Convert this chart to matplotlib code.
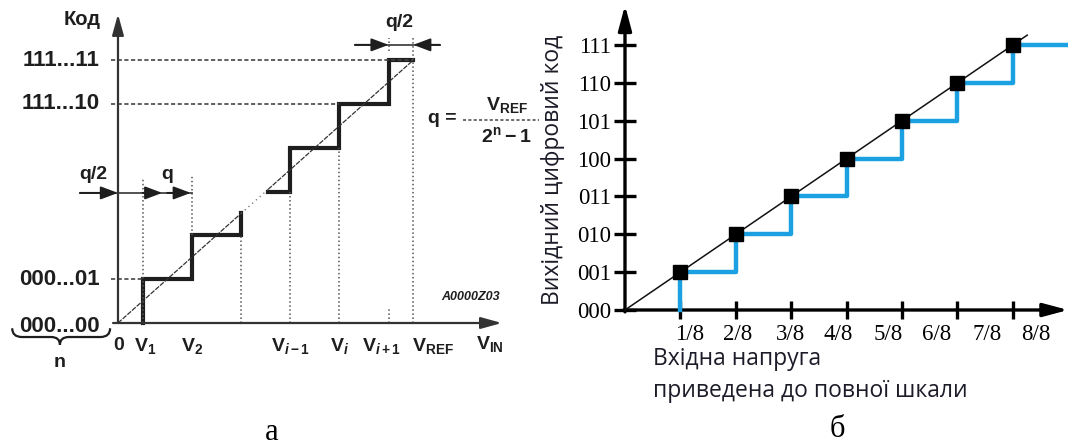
import numpy as np
import matplotlib.pyplot as plt
from matplotlib.path import Path
from matplotlib.patches import PathPatch

plt.rcParams['mathtext.fontset'] = 'custom'
plt.rcParams['mathtext.rm'] = 'Liberation Sans:bold'
plt.rcParams['mathtext.bf'] = 'Liberation Sans:bold'
plt.rcParams['mathtext.it'] = 'Liberation Sans:bold:italic'

# ---- (a) ideal ADC transfer curve, units of q ----
lo_x = [0.5, 0.5, 1.5, 1.5, 2.5, 2.5]
lo_y = [0, 1, 1, 2, 2, 2.5]
hi_x = [3.05, 3.5, 3.5, 4.5, 4.5, 5.5, 5.5, 6.0]
hi_y = [3, 3, 4, 4, 5, 5, 6, 6]
v_ref = 6.0
code_levels = [6, 5, 1, 0]
code_names = ['111...11', '111...10', '000...01', '000...00']
v_pos = [0.0, 0.55, 1.5, 3.5, 4.5, 5.35, 6.4]
v_names = ['0', r'$\mathbf{V_1}$', r'$\mathbf{V_2}$', r'$\mathbf{V_{\mathit{i}-1}}$',
           r'$\mathbf{V_{\mathit{i}}}$', r'$\mathbf{V_{\mathit{i}+1}}$', r'$\mathbf{V_{REF}}$']

# ---- (b) 3-bit ADC, input in eighths of full scale ----
fs_steps = [1, 2, 3, 4, 5, 6, 7]
codes = [1, 2, 3, 4, 5, 6, 7]
code_labels = ['000', '001', '010', '011', '100', '101', '110', '111']
x_labels = ['1/8', '2/8', '3/8', '4/8', '5/8', '6/8', '7/8', '8/8']
x_label_pos = [1.17, 2.04, 2.98, 3.84, 4.75, 5.63, 6.53, 7.42]

fig = plt.figure(figsize=(10.68, 4.46), dpi=100)

ink = '#1e1e1e'
ax1 = fig.add_axes([0, 0, 540 / 1068, 1])
ax1.set_xlim(-2.398, 8.577)
ax1.set_ylim(-2.808, 7.374)
ax1.axis('off')

arr = dict(arrowstyle='-|>,head_length=0.9,head_width=0.25', color='#333', lw=1.6,
           mutation_scale=14, shrinkA=0, shrinkB=0)
ax1.annotate('', xy=(0, 7.05), xytext=(0, 0), arrowprops=arr)
ax1.annotate('', xy=(7.8, 0), xytext=(-0.1, 0), arrowprops=arr)

# steps
ax1.plot(lo_x, lo_y, color=ink, lw=3, solid_joinstyle='miter')
ax1.plot(hi_x, hi_y, color=ink, lw=3, solid_joinstyle='miter')
ax1.plot([0, 2.5], [0, 2.5], color='#333', lw=0.9, dashes=(4, 1))
ax1.plot([2.5, 3.05], [2.5, 3.05], color='#666', lw=0.9, dashes=(1, 3))
ax1.plot([3.05, v_ref], [3.05, v_ref], color='#333', lw=0.9, dashes=(4, 1))

# guide lines
dot = dict(color='#555', lw=1.1, ls=':')
ax1.plot([-0.15, v_ref], [6, 6], color='#444', lw=1.2, dashes=(2.5, 1.5))
ax1.plot([-0.15, 4.5], [5, 5], color='#444', lw=1.2, dashes=(2.5, 1.5))
ax1.plot([-0.15, 0.5], [1, 1], color='#444', lw=1.2, dashes=(2.5, 1.5))
ax1.plot([0.5, 0.5], [0, 3.3], **dot)
ax1.plot([1.5, 1.5], [2, 3.35], **dot)
ax1.plot([2.5, 2.5], [0, 2], **dot)
ax1.plot([3.5, 3.5], [0, 3], **dot)
ax1.plot([4.5, 4.5], [0, 4], **dot)
ax1.plot([5.5, 5.5], [0, 0.35], **dot)
ax1.plot([5.5, 5.5], [6.2, 6.5], **dot)
ax1.plot([v_ref, v_ref], [0, 6.5], **dot)

# dimension arrows
dim = dict(arrowstyle='-|>,head_length=0.8,head_width=0.3', color=ink, lw=1.4,
           mutation_scale=13, shrinkA=0, shrinkB=0)
ax1.plot([-0.77, 1.5], [2.97, 2.97], color='#444', lw=1.3)
ax1.annotate('', xy=(0, 2.97), xytext=(-0.77, 2.97), arrowprops=dim)
ax1.annotate('', xy=(0.9, 2.97), xytext=(0.5, 2.97), arrowprops=dim)
ax1.annotate('', xy=(1.48, 2.97), xytext=(1.0, 2.97), arrowprops=dim)
ax1.plot([4.82, 6.54], [6.35, 6.35], color='#444', lw=1.3)
ax1.annotate('', xy=(5.5, 6.35), xytext=(4.82, 6.35), arrowprops=dim)
ax1.annotate('', xy=(v_ref, 6.35), xytext=(6.54, 6.35), arrowprops=dim)

sans = dict(family='Liberation Sans', weight='bold', color=ink)
ax1.text(-0.73, 6.92, 'Код', fontsize=14.5, ha='center', va='center', **sans)
for lv, nm in zip(code_levels, code_names):
    ax1.text(-0.37, lv - (0.09 if lv == 0 else 0), nm, fontsize=16, ha='right',
             va='center', **sans)
for vx, nm in zip(v_pos, v_names):
    ax1.text(vx + (0.0 if vx > 0 else 0.02), -0.52, nm, fontsize=14, ha='center',
             va='center', **sans)
ax1.text(7.55, -0.47, r'$\mathbf{V_{IN}}$', fontsize=14, ha='center', va='center', **sans)
ax1.text(-0.5, 3.38, 'q/2', fontsize=14, ha='center', va='center', **sans)
ax1.text(1.0, 3.38, 'q', fontsize=14, ha='center', va='center', **sans)
ax1.text(5.72, 6.85, 'q/2', fontsize=14, ha='center', va='center', **sans)
ax1.text(6.59, 4.66, 'q =', fontsize=14, ha='center', va='center', **sans)
ax1.plot([7.01, 8.55], [4.63, 4.63], color='#444', lw=1.1, dashes=(2, 1.5))
ax1.text(7.9, 4.97, r'$\mathbf{V_{REF}}$', fontsize=14, ha='center', va='center', **sans)
ax1.text(7.89, 4.28, r'$\mathbf{2^n - 1}$', fontsize=14, ha='center', va='center', **sans)
ax1.text(7.17, 0.59, 'A0000Z03', fontsize=9, ha='center', va='center',
         style='italic', **sans)

# brace under the code width
verts = [(-2.15, -0.12), (-2.15, -0.32), (-1.95, -0.32), (-1.36, -0.32),
         (-1.18, -0.32), (-1.18, -0.5), (-1.18, -0.32), (-1.0, -0.32),
         (-0.36, -0.32), (-0.16, -0.32), (-0.16, -0.12)]
cmds = [Path.MOVETO, Path.CURVE3, Path.CURVE3, Path.LINETO, Path.CURVE3, Path.CURVE3,
        Path.CURVE3, Path.CURVE3, Path.LINETO, Path.CURVE3, Path.CURVE3]
ax1.add_patch(PathPatch(Path(verts, cmds), fill=False, color=ink, lw=1.6))
ax1.text(-1.18, -0.9, 'n', fontsize=14, ha='center', va='center', **sans)

ax1.text(3.13, -2.5, 'а', fontsize=22, ha='center', va='center', family='Liberation Serif')

# ---- (b) ----
ax2 = fig.add_axes([540 / 1068, 0, 528 / 1068, 1])
ax2.set_xlim(-1.534, 7.996)
ax2.set_ylim(-3.592, 8.188)
ax2.patch.set_visible(False)
for s in ['top', 'right']:
    ax2.spines[s].set_visible(False)
ax2.spines['left'].set_position(('data', 0))
ax2.spines['bottom'].set_position(('data', 0))
ax2.spines['left'].set_visible(False)
ax2.spines['bottom'].set_visible(False)

ax2.set_yticks(range(8))
ax2.set_yticklabels(code_labels, family='Liberation Serif', fontsize=16.5)
ax2.tick_params(axis='y', direction='inout', length=16, width=2.4, pad=2)
ax2.set_xticks(fs_steps)
ax2.set_xticklabels([])
ax2.set_xticks(x_label_pos, minor=True)
ax2.set_xticklabels(x_labels, minor=True, family='Liberation Serif', fontsize=16.5)
ax2.tick_params(axis='x', which='major', direction='inout', length=13, width=2.4)
ax2.tick_params(axis='x', which='minor', length=0, pad=10)

ax_arr = dict(arrowstyle='-|>,head_length=0.75,head_width=0.2', color='k', lw=2.4,
              mutation_scale=20, shrinkA=0, shrinkB=0)
ax2.annotate('', xy=(0, 8.05), xytext=(0, -0.05), arrowprops=ax_arr, annotation_clip=False)
ax2.annotate('', xy=(8.0, 0), xytext=(-0.02, 0), arrowprops=ax_arr, annotation_clip=False)

ax2.step([1] + fs_steps + [8.05], [0] + codes + [codes[-1]], where='post',
         color='#1ba1e2', lw=3.2, zorder=3, clip_on=False)
ax2.plot([0, 7.26], [0, 7.26], color='#111', lw=1.1, zorder=4)
ax2.plot(fs_steps, codes, 's', color='k', ms=10.5, zorder=5)

lab = dict(family='Open Sans', fontsize=16.5, color='#1c1c28')
ax2.text(-1.3, 3.7, 'Вихідний цифровий код', rotation=90, ha='center', va='center', **lab)
ax2.text(0.5, -1.3, 'Вхідна напруга', ha='left', va='center', **lab)
ax2.text(0.5, -2.13, 'приведена до повної шкали', ha='left', va='center', **lab)
ax2.text(3.84, -3.15, 'б', fontsize=22, ha='center', va='center', family='Liberation Serif')

fig.savefig('out.png', dpi=100)
